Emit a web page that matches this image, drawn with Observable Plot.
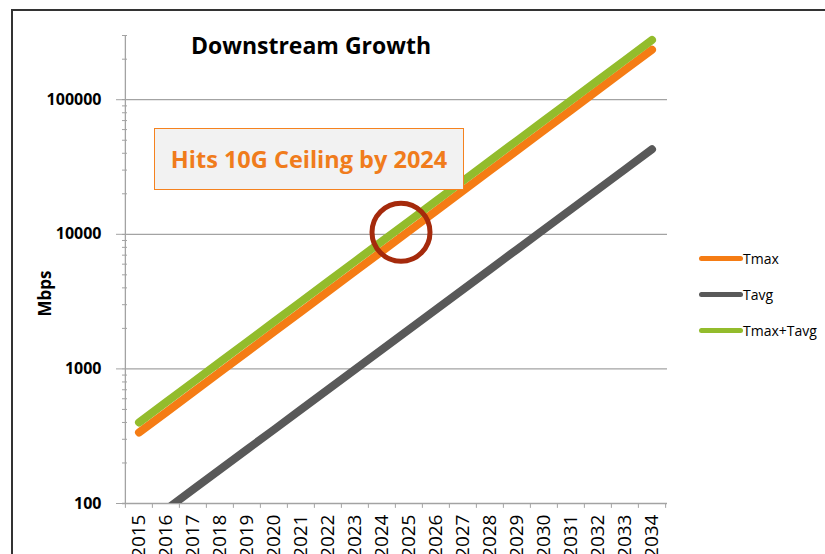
<!DOCTYPE html>
<html>
<head>
<meta charset="utf-8">
<script src="https://cdn.jsdelivr.net/npm/d3@7"></script>
<script src="https://cdn.jsdelivr.net/npm/@observablehq/plot@0.6"></script>
<style>
  html, body { margin: 0; padding: 0; background: #fff; overflow: hidden; }
  #wrap { position: relative; width: 825px; height: 554px; overflow: hidden; font-family: "Open Sans", sans-serif; }
  #wrap svg { position: absolute; left: 0; top: 0; }
  #border { position: absolute; left: 11px; top: 9px; width: 900px; height: 700px; border: 2px solid #333; box-sizing: border-box; pointer-events: none; }
  #title { position: absolute; left: 111px; width: 400px; top: 34px; text-align: center; font-weight: 700; font-size: 23px; line-height: 1; color: #000; }
  #note { position: absolute; left: 154px; top: 128px; width: 310px; height: 62px; box-sizing: border-box; background: #f2f2f2; border: 1.5px solid #f5821f; color: #f07c1c; font-weight: 700; font-size: 23.5px; display: flex; align-items: center; justify-content: center; }
  #legend { position: absolute; left: 699px; top: 240px; font-size: 14px; color: #000; }
  .item { display: flex; align-items: center; height: 36px; }
  .sw { width: 44px; height: 5px; border-radius: 3px; margin-right: 0px; }
</style>
</head>
<body>
<div id="wrap"></div>
<script>
const years = ["2015","2016","2017","2018","2019","2020","2021","2022","2023","2024",
               "2025","2026","2027","2028","2029","2030","2031","2032","2033","2034"];
const seriesNames = ["Tmax", "Tavg", "Tmax+Tavg"];
const seriesColors = ["#f57c14", "#595959", "#93bc2c"];
const tmax  = [337, 475, 671, 947, 1336, 1886, 2662, 3757, 5304, 7486,
               10568, 14918, 21058, 29725, 41960, 59230, 83610, 118000, 166600, 235100];
const tavg  = [64, 90, 127, 179, 252, 354, 499, 703, 990, 1394,
               1963, 2765, 3894, 5484, 7723, 10877, 15318, 21573, 30381, 42790];
const total = [400, 565, 798, 1126, 1588, 2240, 3161, 4460, 6294, 8880,
               12531, 17683, 24952, 35209, 49683, 70107, 98928, 139573, 196981, 277890];
const majorTicks = [100, 1000, 10000, 100000];
const minorTicks = [200,300,400,500,600,700,800,900,
                    2000,3000,4000,5000,6000,7000,8000,9000,
                    20000,30000,40000,50000,60000,70000,80000,90000,
                    200000,300000];
const titleText = "Downstream Growth";
const noteText = "Hits 10G Ceiling by 2024";
const yLabel = "Mbps";

const W = 825, H = 554, mL = 122, mR = 158, mT = 35, mB = 51;
const plotW = W - mL - mR;
const bw = plotW / years.length;
const gridColor = "#a3a3a3";

const valuesBySeries = [tmax, tavg, total];
const table = [];
seriesNames.forEach((s, si) => years.forEach((y, i) => table.push({series: s, year: y, value: valuesBySeries[si][i]})));

const chart = Plot.plot({
  width: W, height: H,
  marginLeft: mL, marginRight: mR, marginTop: mT, marginBottom: mB,
  style: {fontFamily: "Open Sans", background: "transparent"},
  x: {type: "band", domain: years, padding: 0, label: null},
  y: {type: "log", domain: [100, 300000], label: null},
  color: {domain: seriesNames, range: seriesColors},
  marks: [
    Plot.ruleY(majorTicks, {stroke: gridColor, strokeWidth: 1.3}),
    Plot.tickY(minorTicks, {stroke: gridColor, insetRight: plotW - 5}),
    Plot.ruleX([years[0]], {dx: -bw / 2, stroke: gridColor, strokeWidth: 1.3}),
    Plot.ruleX(years, {dx: -bw / 2, y1: 100, y2: 92, stroke: gridColor}),
    Plot.ruleX([years[years.length - 1]], {dx: bw / 2, y1: 100, y2: 92, stroke: gridColor}),
    Plot.axisY({ticks: majorTicks, tickSize: 6, tickPadding: 15, tickFormat: d => String(d),
                fontSize: 16, fontWeight: "bold", stroke: gridColor, fill: "#000"}),
    Plot.axisX({tickSize: 0, tickRotate: -90, tickPadding: 11, fontSize: 19, fill: "#000"}),
    Plot.text([yLabel], {frameAnchor: "left", textAnchor: "middle", rotate: -90, dx: -77, dy: 24,
                         fontSize: 17, fontWeight: "bold", fill: "#000"}),
    Plot.line(table, {x: "year", y: "value", z: "series", stroke: "series", strokeWidth: 8,
                      strokeLinecap: "round", strokeLinejoin: "round", clip: true}),
    Plot.dot([{year: "2025", value: 10000}], {x: "year", y: "value", r: 29, dx: -8, dy: -2,
                      stroke: "#a52a0c", strokeWidth: 5, fill: "none"})
  ]
});

const wrap = document.getElementById("wrap");
wrap.appendChild(chart);

const border = document.createElement("div"); border.id = "border"; wrap.appendChild(border);
const title = document.createElement("div"); title.id = "title"; title.textContent = titleText; wrap.appendChild(title);
const note = document.createElement("div"); note.id = "note"; note.textContent = noteText; wrap.appendChild(note);
const legend = document.createElement("div"); legend.id = "legend";
seriesNames.forEach((s, i) => {
  const item = document.createElement("div"); item.className = "item";
  const sw = document.createElement("span"); sw.className = "sw"; sw.style.background = seriesColors[i];
  const lab = document.createElement("span"); lab.textContent = s;
  item.appendChild(sw); item.appendChild(lab); legend.appendChild(item);
});
wrap.appendChild(legend);
</script>
</body>
</html>
